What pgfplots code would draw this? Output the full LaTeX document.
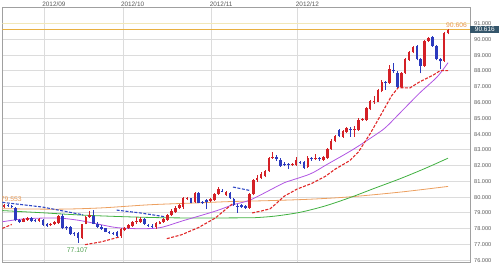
\documentclass[border=0pt]{standalone}
\usepackage{fontspec}
\setmainfont{Liberation Sans}
\usepackage{pgfplots}
\usepackage{pgfplotstable}
\pgfplotsset{compat=1.18}
\definecolor{upc}{RGB}{212,32,38}
\definecolor{dnc}{RGB}{44,58,190}
\definecolor{gridc}{RGB}{220,220,220}
\definecolor{framec}{RGB}{160,160,160}
\definecolor{labc}{RGB}{90,90,90}
\definecolor{ma1}{RGB}{176,84,226}
\definecolor{ma2}{RGB}{64,176,64}
\definecolor{ma3}{RGB}{236,160,96}
\definecolor{sarup}{RGB}{224,40,40}
\definecolor{sardn}{RGB}{48,72,196}
\definecolor{curc}{RGB}{232,176,64}
\definecolor{palec}{RGB}{242,232,184}
\definecolor{tagc}{RGB}{53,86,107}
\definecolor{hic}{RGB}{232,150,80}
\definecolor{loc}{RGB}{80,160,80}

\pgfplotstableread{
k O H L C
0 79.36 79.553 79.30 79.46
5 78.42 78.66 78.38 78.60
6 78.55 78.74 78.50 78.68
9 78.48 78.68 78.42 78.62
12 78.20 78.36 78.15 78.30
13 78.28 78.45 78.24 78.38
14 78.33 78.86 78.28 78.80
20 77.40 78.30 77.35 78.26
21 78.30 78.80 78.25 78.72
22 78.72 79.10 78.65 78.83
30 77.50 78.00 77.40 77.95
31 77.90 78.12 77.82 78.05
32 78.02 78.25 77.96 78.20
33 78.18 78.48 78.12 78.42
34 78.40 78.70 78.30 78.45
35 78.42 78.70 78.36 78.62
39 78.10 78.42 77.98 78.36
40 78.30 78.48 78.25 78.42
41 78.40 78.65 78.35 78.58
42 78.55 78.90 78.50 78.84
43 78.82 79.20 78.78 79.12
44 79.05 79.40 79.00 79.32
45 79.28 79.55 79.22 79.48
46 79.35 79.98 79.25 79.90
47 79.86 79.98 79.80 79.91
49 79.65 80.30 79.60 80.24
53 79.74 79.90 79.65 79.84
54 79.80 80.22 79.75 80.18
55 80.18 80.60 80.12 80.50
57 80.10 80.35 80.05 80.28
63 79.30 80.25 79.25 80.17
64 80.17 81.15 80.10 81.06
65 81.06 81.40 80.95 81.22
66 81.20 81.55 81.12 81.45
67 81.30 81.70 81.25 81.62
68 81.62 82.55 81.58 82.47
69 82.48 82.83 82.40 82.55
74 82.02 82.15 81.95 82.07
75 82.04 82.50 81.98 82.34
78 81.88 82.60 81.82 82.47
80 82.38 82.72 82.32 82.43
82 82.36 82.58 82.30 82.52
83 82.45 83.12 82.40 83.05
84 83.05 83.65 82.98 83.57
85 83.55 83.92 83.45 83.85
87 83.80 84.25 83.75 84.17
88 84.12 84.45 84.05 84.38
90 84.26 84.50 83.80 84.31
91 84.26 84.98 84.20 84.90
92 84.88 85.00 84.82 84.93
93 84.85 85.70 84.80 85.60
94 85.55 86.15 85.50 86.08
95 85.98 86.40 85.90 86.08
96 86.04 86.85 86.00 86.77
97 86.70 87.38 86.62 87.30
99 87.22 88.35 87.15 88.08
102 86.98 87.90 86.92 87.83
103 87.87 88.80 87.80 88.72
104 88.70 89.22 88.62 89.15
105 89.15 89.55 89.10 89.49
108 88.30 89.92 88.25 89.85
109 89.88 90.12 89.80 90.05
113 88.62 90.45 88.55 90.38
114 90.38 90.606 90.30 90.59
}\upcandles

\pgfplotstableread{
k O H L C
1 79.50 79.54 79.35 79.42
2 79.42 79.48 79.30 79.36
3 79.28 79.36 78.45 78.52
4 78.52 78.58 78.35 78.42
7 78.68 78.72 78.40 78.45
8 78.52 78.62 78.38 78.45
10 78.55 78.62 78.18 78.22
11 78.28 78.32 78.12 78.18
15 78.80 78.90 77.94 78.05
16 78.08 78.15 77.90 78.00
17 78.10 78.15 77.60 77.66
18 77.72 77.80 77.55 77.62
19 77.70 77.80 77.107 77.40
23 78.80 79.15 78.25 78.30
24 78.30 78.38 78.05 78.10
25 78.12 78.20 77.92 77.98
26 78.00 78.05 77.75 77.80
27 77.78 77.85 77.65 77.72
28 77.72 77.80 77.58 77.66
29 77.80 77.85 77.45 77.52
36 78.58 78.65 78.22 78.28
37 78.22 78.30 78.10 78.17
38 78.18 78.25 78.05 78.13
48 79.90 79.95 79.58 79.64
50 80.24 80.30 79.58 79.64
51 79.67 79.72 79.55 79.62
52 79.80 79.88 79.22 79.66
56 80.40 80.48 80.28 80.35
58 80.26 80.32 79.88 79.92
59 79.88 79.92 79.45 79.50
60 79.45 79.55 79.00 79.40
61 79.48 79.55 79.28 79.35
62 79.42 79.48 79.22 79.28
70 82.50 82.62 82.30 82.42
71 82.35 82.45 81.92 81.98
72 82.09 82.18 81.95 82.04
73 82.06 82.15 81.75 82.00
76 82.20 82.30 82.05 82.12
77 82.20 82.26 81.78 81.84
79 82.43 82.50 82.30 82.38
81 82.43 82.50 82.30 82.38
86 84.22 84.32 83.78 83.85
89 84.28 84.40 83.80 84.23
98 87.25 87.32 86.80 87.20
100 88.05 88.47 87.85 87.95
101 87.85 87.95 86.90 86.98
106 89.57 89.65 88.65 88.72
107 88.72 88.80 87.83 88.30
110 90.12 90.21 89.50 89.58
111 89.58 89.62 88.65 88.72
112 88.72 88.80 88.08 88.58
}\dncandles

\begin{document}
\begin{tikzpicture}
\begin{axis}[
  at={(2.3bp,3.5bp)}, anchor=south west,
  scale only axis, width=467.7bp, height=255.2bp,
  xmin=-0.44, xmax=119.64, ymin=75.84, ymax=92.01,
  axis line style={draw=framec, line width=0.6bp},
  major tick length=0pt,
  xtick={10.3,30.5,53.3,75.4},
  xticklabels={2012/09,2012/10,2012/11,2012/12},
  xticklabel pos=top,
  xticklabel style={anchor=base west, inner sep=0pt, xshift=-2bp, yshift=0.8bp,
    font=\fontsize{6.4bp}{7bp}\selectfont, text=labc},
  ytick={76,77,78,79,80,81,82,83,84,85,86,87,88,89,90,91},
  yticklabels={76.000,77.000,78.000,79.000,80.000,81.000,82.000,83.000,84.000,85.000,86.000,87.000,88.000,89.000,90.000,91.000},
  yticklabel pos=right,
  yticklabel style={anchor=west, inner sep=0pt, xshift=4bp, yshift=-0.4bp,
    font=\fontsize{5.6bp}{6bp}\selectfont, text=labc},
  grid=major,
  major grid style={draw=gridc, line width=0.6bp},
]
% pale line at 91 and current price line
\addplot[palec, line width=0.8bp, mark=none, forget plot] coordinates {(-0.44,91) (119.64,91)};
\addplot[curc, line width=0.8bp, mark=none, forget plot] coordinates {(-0.44,90.616) (119.64,90.616)};

% moving averages
\addplot[ma3, line width=0.8bp, mark=none, smooth] coordinates {
(-0.44,79.25) (14,79.22) (25,79.3) (37.5,79.5) (50,79.62) (58,79.7) (68,79.76) (78.6,79.85) (88.8,80.0) (101.7,80.3) (114,80.66)};
\addplot[ma2, line width=0.8bp, mark=none, smooth] coordinates {
(-0.44,79.13) (9.2,79.0) (19.5,78.85) (29.8,78.75) (40.1,78.68) (50.3,78.66) (60.6,78.67) (64.4,78.68) (69.6,78.78) (76,79.02) (82.4,79.42) (88.8,79.95) (95.2,80.55) (101.7,81.15) (108.1,81.8) (114,82.45)};
\addplot[ma1, line width=0.8bp, mark=none, smooth] coordinates {
(-0.44,78.42) (4.1,78.58) (9.2,78.65) (14.4,78.65) (19.5,78.5) (24.6,78.25) (29,78.05) (34.9,77.98) (40.1,78.05) (46,78.49) (50.3,78.8) (54.7,79.13) (58.8,79.5) (63.2,79.8) (69.6,80.6) (72,80.9) (78.6,81.45) (82.9,82.05) (89.6,83.0) (95.8,84.0) (98.2,84.45) (102.4,85.5) (106.8,86.6) (111.2,87.6) (114,88.5)};

% SAR-like dashed segments
\pgfplotsset{sarr/.style={sarup, line width=1.1bp, mark=none, dash pattern=on 3bp off 1.5bp}}
\pgfplotsset{sarb/.style={sardn, line width=1.1bp, mark=none, dash pattern=on 3bp off 1.5bp}}
\addplot[sarr] coordinates {(-0.44,78.0) (2.0,78.25)};
\addplot[sarb] coordinates {(-0.44,79.65) (10,79.35) (20.3,78.86)};
\addplot[sarr] coordinates {(20.8,76.97) (25,77.15) (29.5,77.45)};
\addplot[sarb] coordinates {(28.9,79.16) (35,78.98) (41.3,78.74)};
\addplot[sarr] coordinates {(41.8,77.35) (45.6,77.6) (49.9,78.05) (54.2,78.65) (58.6,79.55)};
\addplot[sarb] coordinates {(58.8,80.62) (63.2,80.4)};
\addplot[sarr] coordinates {(63.7,78.98) (66,79.1) (68.3,79.24) (70,79.6) (72,80.05) (75.3,80.5) (79,80.85) (82.5,81.3) (85,81.75) (88.8,82.3) (91,82.85) (94,84.0) (97,85.3) (99.5,86.4) (101.2,86.92) (104.2,86.9) (106.8,87.3) (110.1,87.7) (112,88.0) (114,88.0)};

% candles: wicks
\addplot[draw=none, mark=none, forget plot,
  error bars/.cd, y dir=plus, y explicit, error mark=none,
  error bar style={draw=upc, line width=0.7bp}]
  table[x=k, y=L, y error plus expr=\thisrow{H}-\thisrow{L}] {\upcandles};
\addplot[draw=none, mark=none, forget plot,
  error bars/.cd, y dir=plus, y explicit, error mark=none,
  error bar style={draw=dnc, line width=0.7bp}]
  table[x=k, y=L, y error plus expr=\thisrow{H}-\thisrow{L}] {\dncandles};
% candles: bodies
\addplot[draw=none, mark=none, forget plot,
  error bars/.cd, y dir=plus, y explicit, error mark=none,
  error bar style={draw=upc, line width=2.6bp}]
  table[x=k, y=O, y error plus expr=\thisrow{C}-\thisrow{O}] {\upcandles};
\addplot[draw=none, mark=none, forget plot,
  error bars/.cd, y dir=plus, y explicit, error mark=none,
  error bar style={draw=dnc, line width=2.6bp}]
  table[x=k, y=C, y error plus expr=\thisrow{O}-\thisrow{C}] {\dncandles};

% annotations
\node[font=\fontsize{6.8bp}{7bp}\selectfont, text=hic, inner sep=0pt, anchor=west] at (axis cs:-0.85,79.85) {79.553};
\node[font=\fontsize{6.8bp}{7bp}\selectfont, text=hic, inner sep=0pt] at (axis cs:116.2,90.89) {90.606};
\node[font=\fontsize{6.8bp}{7bp}\selectfont, text=loc, inner sep=0pt] at (axis cs:18.8,76.65) {77.107};
\coordinate (cur) at (axis cs:119.64,90.616);
\end{axis}
\node[anchor=west, fill=tagc, text=white, inner sep=0pt, minimum width=29.4bp, minimum height=6.8bp,
  font=\fontsize{6.5bp}{7bp}\selectfont] at (cur) {90.616};
\pgfresetboundingbox
\useasboundingbox (0,0) rectangle (499bp,266bp);
\end{tikzpicture}
\end{document}
